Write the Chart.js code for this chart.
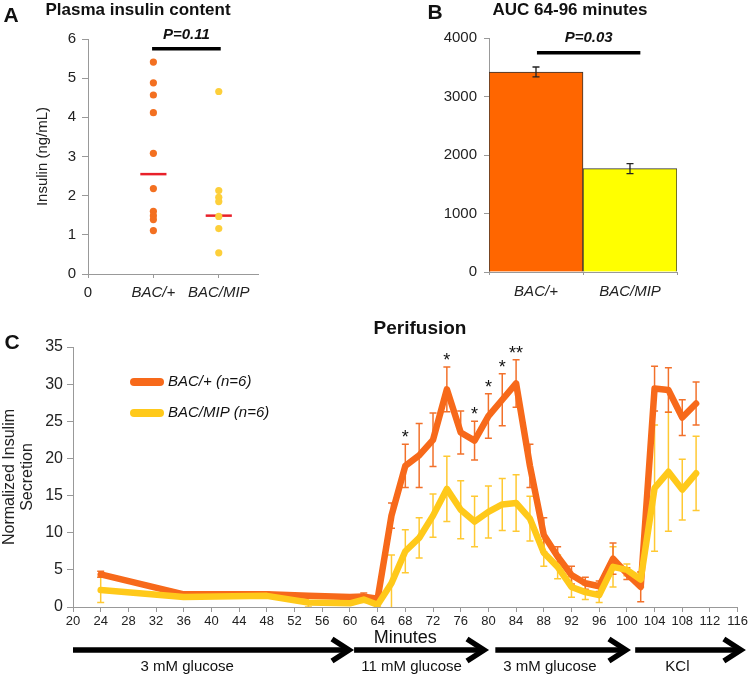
<!DOCTYPE html>
<html>
<head>
<meta charset="utf-8">
<script src="https://cdn.jsdelivr.net/npm/chart.js@4/dist/chart.umd.min.js"></script>
<style>
  body { margin: 0; background: #fff; width: 750px; height: 677px; position: relative; overflow: hidden; }
  canvas { position: absolute; }
</style>
</head>
<body>
<canvas id="chartA" width="265" height="300" style="left:0;top:0"></canvas>
<canvas id="chartB" width="340" height="300" style="left:400px;top:0"></canvas>
<canvas id="chartC" width="750" height="367" style="left:0;top:310px"></canvas>
<script>
var groups = ['BAC/+', 'BAC/MIP']

// A: plasma insulin, one dot per animal (ng/mL)
var insulinBac = [5.41, 4.88, 4.57, 4.12, 3.08, 2.18, 1.60, 1.49, 1.39, 1.11]
var insulinMip = [4.66, 2.13, 1.96, 1.85, 1.47, 1.16, 0.54]
var insulinMid = [2.55, 1.49]
var pA = { label: 'P=0.11', y: 5.75, from: 0.98, to: 2.03 }

// B: AUC 64-96 minutes
var aucMean = [3419, 1766]
var aucErr = [85, 85]
var pB = { label: 'P=0.03', y: 3749, from: 0.01, to: 1.11 }

// C: perifusion
var minutes = [24, 36, 48, 54, 60, 62, 64, 66, 68, 70, 72, 74, 76, 78, 80, 82, 84, 86, 88, 90, 92, 94, 96, 98, 100, 102, 104, 106, 108, 110]
var bacMean = [4.4, 1.7, 1.7, 1.5, 1.35, 1.4, 1.1, 12.3, 19.0, 20.4, 22.5, 29.3, 23.5, 22.4, 25.7, 27.9, 30.1, 19.0, 9.7, 6.8, 4.3, 3.2, 2.8, 6.5, 4.5, 2.7, 29.4, 29.2, 25.5, 27.4]
var bacErr = [0.4, 0.3, 0.3, 0.2, 0.2, 0.5, 0.3, 1.7, 2.9, 4.3, 3.6, 3.0, 2.9, 2.6, 3.0, 3.5, 3.2, 2.9, 2.3, 1.3, 1.2, 0.8, 0.7, 2.1, 0.8, 2.0, 3.0, 3.0, 2.4, 2.9]
var mipMean = [2.3, 1.35, 1.5, 0.6, 0.5, 1.0, 0.3, 3.2, 7.5, 9.3, 12.3, 15.9, 13.1, 11.5, 12.8, 13.8, 14.0, 11.9, 7.3, 5.4, 2.7, 2.0, 1.6, 5.4, 5.0, 3.7, 16.0, 18.2, 15.8, 18.0]
var mipErr = [1.7, 0.3, 0.3, 0.6, 0.2, 0.4, 0.3, 3.8, 2.9, 2.7, 2.9, 4.4, 3.9, 3.4, 3.5, 3.5, 3.8, 3.0, 1.8, 1.6, 1.4, 1.0, 1.0, 2.7, 0.8, 1.0, 8.5, 8.0, 4.1, 5.0]
var starAt = [68, 74, 78, 80, 82, 84]
var starText = ['*', '*', '*', '*', '*', '**']
var phaseNames = ['3 mM glucose', '11 mM glucose', '3 mM glucose', 'KCl']
var phaseFrom = [20, 60.6, 81, 101.2]
var phaseTo = [60.3, 79.8, 100.3, 116.9]
var phaseMid = [36.5, 68.9, 88.9, 107.3]

var FONT = "'Liberation Sans', Arial, Helvetica, sans-serif"
Chart.defaults.font.family = FONT
Chart.defaults.color = '#222'

var ORANGE = '#f7691a'
var YELLOW = '#ffc91a'

function text(ctx, str, x, y, font, align) {
  ctx.save()
  ctx.font = font
  ctx.fillStyle = '#111'
  ctx.textAlign = align || 'center'
  ctx.textBaseline = 'middle'
  ctx.fillText(str, x, y)
  ctx.restore()
}

function axisGrid(len) {
  return { drawOnChartArea: false, tickLength: len, color: '#999', tickColor: '#999' }
}

// ---------- A ----------
var notesA = {
  id: 'notesA',
  afterDraw: function(chart) {
    var ctx = chart.ctx, xs = chart.scales.x, ys = chart.scales.y
    text(ctx, 'A', 11, 16, 'bold 21px ' + FONT)
    text(ctx, 'Plasma insulin content', 138, 10, 'bold 17px ' + FONT)
    text(ctx, pA.label, xs.getPixelForValue((pA.from + pA.to) / 2), ys.getPixelForValue(pA.y) - 14, 'italic bold 15px ' + FONT)
  }
}

new Chart(document.getElementById('chartA'), {
  type: 'scatter',
  data: {
    datasets: [
      { data: insulinBac.map(v => ({ x: 1, y: v })), pointRadius: 3.6, backgroundColor: '#f37021', borderWidth: 0 },
      { data: insulinMip.map(v => ({ x: 2, y: v })), pointRadius: 3.6, backgroundColor: '#fdcf3a', borderWidth: 0 },
      { data: [{ x: 0.8, y: insulinMid[0] }, { x: 1.2, y: insulinMid[0] }], showLine: true, borderColor: '#e8202a', borderWidth: 2.5, pointRadius: 0 },
      { data: [{ x: 1.8, y: insulinMid[1] }, { x: 2.2, y: insulinMid[1] }], showLine: true, borderColor: '#e8202a', borderWidth: 2.5, pointRadius: 0 },
      { data: [{ x: pA.from, y: pA.y }, { x: pA.to, y: pA.y }], showLine: true, borderColor: '#000', borderWidth: 3.5, pointRadius: 0 }
    ]
  },
  options: {
    responsive: false,
    animation: false,
    layout: { padding: { top: 39, right: 7, left: 0, bottom: 0 } },
    plugins: { legend: { display: false }, tooltip: { enabled: false } },
    scales: {
      x: {
        type: 'linear', min: 0, max: 2.6,
        afterBuildTicks: s => { s.ticks = [{ value: 0 }, { value: 1 }, { value: 2 }] },
        afterFit: s => { s.height = 26 },
        ticks: {
          padding: 6, maxRotation: 0, color: '#222',
          callback: v => v === 0 ? '0' : groups[v - 1],
          font: c => ({ size: 15, style: c.tick && c.tick.value === 0 ? 'normal' : 'italic' })
        },
        grid: axisGrid(4),
        border: { color: '#999' }
      },
      y: {
        min: 0, max: 6,
        afterFit: s => { s.width = 88 },
        ticks: { stepSize: 1, font: { size: 15 }, padding: 6, color: '#222' },
        grid: axisGrid(6),
        border: { color: '#999' },
        title: { display: true, text: 'Insulin (ng/mL)', font: { size: 15 }, padding: { top: 34, bottom: 0 }, color: '#222' }
      }
    }
  },
  plugins: [notesA]
})

// ---------- B ----------
var notesB = {
  id: 'notesB',
  afterDatasetsDraw: function(chart) {
    var ctx = chart.ctx, xs = chart.scales.x, ys = chart.scales.y
    ctx.save()
    ctx.strokeStyle = '#222'
    ctx.lineWidth = 1.3
    aucMean.forEach(function(m, i) {
      var x = xs.getPixelForValue(i)
      var t = ys.getPixelForValue(m + aucErr[i]), b = ys.getPixelForValue(m - aucErr[i])
      ctx.beginPath()
      ctx.moveTo(x, t); ctx.lineTo(x, b)
      ctx.moveTo(x - 3.5, t); ctx.lineTo(x + 3.5, t)
      ctx.moveTo(x - 3.5, b); ctx.lineTo(x + 3.5, b)
      ctx.stroke()
    })
    var py = ys.getPixelForValue(pB.y)
    ctx.strokeStyle = '#000'
    ctx.lineWidth = 3.5
    ctx.beginPath()
    ctx.moveTo(xs.getPixelForValue(pB.from), py)
    ctx.lineTo(xs.getPixelForValue(pB.to), py)
    ctx.stroke()
    ctx.restore()
    text(ctx, pB.label, xs.getPixelForValue((pB.from + pB.to) / 2), py - 15, 'italic bold 15px ' + FONT)
  },
  afterDraw: function(chart) {
    var ctx = chart.ctx
    text(ctx, 'B', 35, 13, 'bold 21px ' + FONT)
    text(ctx, 'AUC 64-96 minutes', 170, 10, 'bold 17px ' + FONT)
  }
}

new Chart(document.getElementById('chartB'), {
  type: 'bar',
  data: {
    labels: groups,
    datasets: [{
      data: aucMean,
      backgroundColor: ['#ff6600', '#ffff00'],
      borderColor: '#333',
      borderWidth: 1,
      barPercentage: 1,
      categoryPercentage: 1
    }]
  },
  options: {
    responsive: false,
    animation: false,
    layout: { padding: { top: 38, right: 63, left: 0, bottom: 0 } },
    plugins: { legend: { display: false }, tooltip: { enabled: false } },
    scales: {
      x: {
        afterFit: s => { s.height = 28 },
        ticks: { font: { size: 15, style: 'italic' }, padding: 8, color: '#222' },
        grid: axisGrid(3),
        border: { color: '#999' }
      },
      y: {
        min: 0, max: 4000,
        afterFit: s => { s.width = 89 },
        ticks: { stepSize: 1000, font: { size: 15 }, padding: 7, color: '#222', callback: v => String(v) },
        grid: axisGrid(5),
        border: { color: '#999' }
      }
    }
  },
  plugins: [notesB]
})

// ---------- C ----------
var notesC = {
  id: 'notesC',
  beforeDatasetsDraw: function(chart) {
    var ctx = chart.ctx, xs = chart.scales.x, ys = chart.scales.y, a = chart.chartArea
    ctx.save()
    ctx.beginPath()
    ctx.rect(a.left, a.top - 5, a.right - a.left, a.bottom - a.top + 5)
    ctx.clip()
    chart.data.datasets.forEach(function(ds) {
      ctx.strokeStyle = ds.errColor
      ctx.lineWidth = 1.5
      ds.data.forEach(function(p, i) {
        var x = xs.getPixelForValue(p.x)
        var t = ys.getPixelForValue(p.y + ds.errors[i]), b = ys.getPixelForValue(p.y - ds.errors[i])
        ctx.beginPath()
        ctx.moveTo(x, t); ctx.lineTo(x, b)
        ctx.moveTo(x - 3.5, t); ctx.lineTo(x + 3.5, t)
        ctx.moveTo(x - 3.5, b); ctx.lineTo(x + 3.5, b)
        ctx.stroke()
      })
    })
    ctx.restore()
  },
  afterDraw: function(chart) {
    var ctx = chart.ctx, xs = chart.scales.x, ys = chart.scales.y
    text(ctx, 'C', 12, 33, 'bold 21px ' + FONT)
    text(ctx, 'Perifusion', 420, 19, 'bold 19px ' + FONT)

    // significance stars over the BAC/+ error bars
    starAt.forEach(function(t, k) {
      var i = minutes.indexOf(t)
      var y = ys.getPixelForValue(bacMean[i] + bacErr[i]) - 6
      text(ctx, starText[k], xs.getPixelForValue(t), y, '18px ' + FONT)
    })

    // legend
    chart.data.datasets.slice().reverse().forEach(function(ds, k) {
      var y = 72 + k * 31
      ctx.save()
      ctx.strokeStyle = ds.borderColor
      ctx.lineWidth = 8
      ctx.lineCap = 'round'
      ctx.beginPath()
      ctx.moveTo(134, y); ctx.lineTo(160, y)
      ctx.stroke()
      ctx.restore()
      text(ctx, ds.label, 168, y, 'italic 15px ' + FONT, 'left')
    })

    // perfusion phase arrows
    var ay = 340
    ctx.save()
    ctx.strokeStyle = '#000'
    ctx.lineWidth = 5.5
    phaseNames.forEach(function(name, k) {
      var x0 = xs.getPixelForValue(phaseFrom[k]), x1 = xs.getPixelForValue(phaseTo[k])
      ctx.beginPath()
      ctx.moveTo(x0, ay); ctx.lineTo(x1 - 3, ay)
      ctx.stroke()
      ctx.beginPath()
      ctx.moveTo(x1 - 20, ay - 11); ctx.lineTo(x1 - 3, ay); ctx.lineTo(x1 - 20, ay + 11)
      ctx.stroke()
      text(ctx, name, xs.getPixelForValue(phaseMid[k]), 357, '15px ' + FONT)
    })
    ctx.restore()
  }
}

new Chart(document.getElementById('chartC'), {
  type: 'line',
  data: {
    datasets: [
      {
        label: 'BAC/MIP (n=6)',
        data: minutes.map((t, i) => ({ x: t, y: mipMean[i] })),
        errors: mipErr, errColor: '#ffc933',
        borderColor: YELLOW, borderWidth: 6.5, pointRadius: 0, tension: 0,
        borderJoinStyle: 'round', borderCapStyle: 'round'
      },
      {
        label: 'BAC/+ (n=6)',
        data: minutes.map((t, i) => ({ x: t, y: bacMean[i] })),
        errors: bacErr, errColor: '#f2712b',
        borderColor: ORANGE, borderWidth: 6.5, pointRadius: 0, tension: 0,
        borderJoinStyle: 'round', borderCapStyle: 'round'
      }
    ]
  },
  options: {
    responsive: false,
    animation: false,
    layout: { padding: { top: 37, right: 12, left: 0, bottom: 0 } },
    plugins: { legend: { display: false }, tooltip: { enabled: false } },
    scales: {
      x: {
        type: 'linear', min: 20, max: 116,
        afterFit: s => { s.height = 70 },
        ticks: { stepSize: 4, autoSkip: false, maxRotation: 0, font: { size: 13 }, padding: 2, color: '#222' },
        grid: axisGrid(5),
        border: { color: '#999' },
        title: { display: true, text: 'Minutes', font: { size: 18 }, padding: { top: 0, bottom: 28 }, color: '#111' }
      },
      y: {
        min: 0, max: 35,
        afterFit: s => { s.width = 73 },
        ticks: { stepSize: 5, font: { size: 16 }, padding: 4, color: '#222' },
        grid: axisGrid(6),
        border: { color: '#999' },
        title: { display: true, text: ['Normalized Insulim', 'Secretion'], font: { size: 16, lineHeight: 1.15 }, padding: { top: 0, bottom: 0 }, color: '#222' }
      }
    }
  },
  plugins: [notesC]
})
</script>
</body>
</html>
